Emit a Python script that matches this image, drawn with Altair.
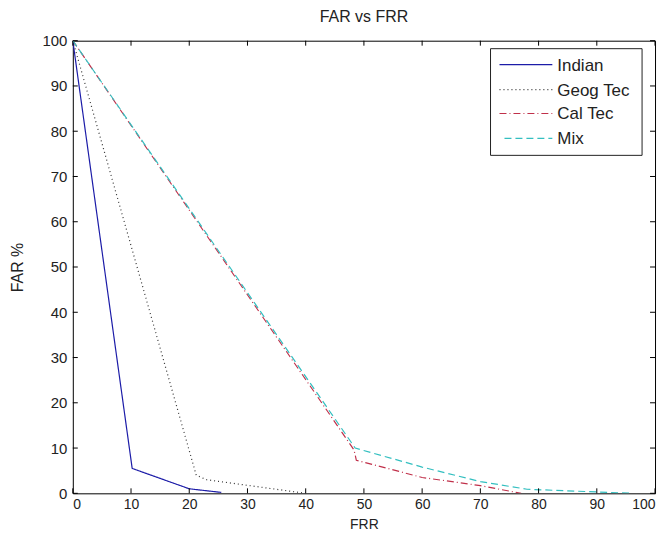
import altair as alt
import pandas as pd

series = ["Indian", "Geog Tec", "Cal Tec", "Mix"]
colors = ["#1c1ca8", "#333333", "#c0304a", "#33bfc0"]
dashes = [[1, 0], [1, 3], [7, 3, 1, 3], [7, 4]]

indian_x = [0, 10.2, 20, 25.5]
indian_y = [100, 5.5, 1, 0.2]
geog_x = [0, 21.2, 23, 40]
geog_y = [100, 4, 3, 0]
cal_x = [0, 48.3, 48.7, 60, 70, 77]
cal_y = [100, 9.6, 7.3, 3.5, 1.7, 0]
mix_x = [0, 48.5, 60, 70, 78, 90, 96]
mix_y = [100, 10, 5.8, 2.6, 0.9, 0.3, 0]
tick_values = list(range(0, 101, 10))

rows = []
for name, xs, ys in [("Indian", indian_x, indian_y), ("Geog Tec", geog_x, geog_y),
                     ("Cal Tec", cal_x, cal_y), ("Mix", mix_x, mix_y)]:
    for i, (a, b) in enumerate(zip(xs, ys)):
        rows.append({"series": name, "FRR": a, "FAR": b, "order": i})
df = pd.DataFrame(rows)
ticks_df = pd.DataFrame({"t": tick_values})

FONT = "Liberation Sans"
W, H = 584, 454
xscale = alt.Scale(domain=[0, 100], nice=False, zero=False)
yscale = alt.Scale(domain=[0, 100], nice=False, zero=False)

lines = alt.Chart(df).mark_line(strokeWidth=1.2, clip=True).encode(
    x=alt.X("FRR:Q", scale=xscale, title="FRR",
            axis=alt.Axis(values=tick_values, tickSize=0, labelPadding=4, labelFontSize=14,
                          titleY=35, titleBaseline="alphabetic", titleFontSize=14,
                          grid=False, domain=False)),
    y=alt.Y("FAR:Q", scale=yscale, title="FAR %",
            axis=alt.Axis(values=tick_values, tickSize=0, labelPadding=6, titlePadding=16,
                          grid=False, domain=False)),
    color=alt.Color("series:N", scale=alt.Scale(domain=series, range=colors),
                    sort=series, legend=None),
    strokeDash=alt.StrokeDash("series:N", scale=alt.Scale(domain=series, range=dashes),
                              sort=series, legend=None),
    order="order:Q",
)

tick_len = 5
bottom = alt.Chart(ticks_df).mark_rule(color="#000").encode(
    x=alt.X("t:Q", scale=xscale, title="FRR"), y=alt.value(H), y2=alt.value(H - tick_len))
top = alt.Chart(ticks_df).mark_rule(color="#000").encode(
    x=alt.X("t:Q", scale=xscale, title="FRR"), y=alt.value(0), y2=alt.value(tick_len))
left = alt.Chart(ticks_df).mark_rule(color="#000").encode(
    y=alt.Y("t:Q", scale=yscale, title="FAR %"), x=alt.value(0), x2=alt.value(tick_len))
right = alt.Chart(ticks_df).mark_rule(color="#000").encode(
    y=alt.Y("t:Q", scale=yscale, title="FAR %"), x=alt.value(W), x2=alt.value(W - tick_len))

# legend box (manual, MATLAB style)
box_df = pd.DataFrame({"k": [0]})
legend_layers = [
    alt.Chart(box_df).mark_rect(fill="white", stroke="#222", strokeWidth=1).encode(
        x=alt.value(419), x2=alt.value(571), y=alt.value(8), y2=alt.value(115))
]
row_y = [24, 49, 73, 98]
for name, col, dsh, yy in zip(series, colors, dashes, row_y):
    one = pd.DataFrame({"series": [name]})
    legend_layers.append(
        alt.Chart(one).mark_rule(color=col, strokeDash=dsh, strokeWidth=1.2).encode(
            x=alt.value(428 if name != "Mix" else 433), x2=alt.value(481), y=alt.value(yy)))
    legend_layers.append(
        alt.Chart(one).mark_text(align="left", baseline="middle", font=FONT, fontSize=17,
                                 color="#222").encode(
            text="series:N", x=alt.value(486), y=alt.value(yy + 1)))

chart = alt.layer(lines, bottom, top, left, right, *legend_layers).properties(
    width=W, height=H,
    title=alt.TitleParams("FAR vs FRR", fontSize=16, fontWeight="normal", color="#222",
                          font=FONT, offset=9, anchor="middle"),
    autosize=alt.AutoSizeParams(type="none"),
    padding={"left": 65, "top": 32, "right": 8, "bottom": 38},
).configure_view(stroke="#000", strokeWidth=1).configure_axis(
    labelFont=FONT, titleFont=FONT, labelFontSize=15,
    titleFontSize=16, titleFontWeight="normal", labelColor="#222", titleColor="#222"
)

chart.save("out.html", embed_options={"renderer": "svg", "actions": False})
